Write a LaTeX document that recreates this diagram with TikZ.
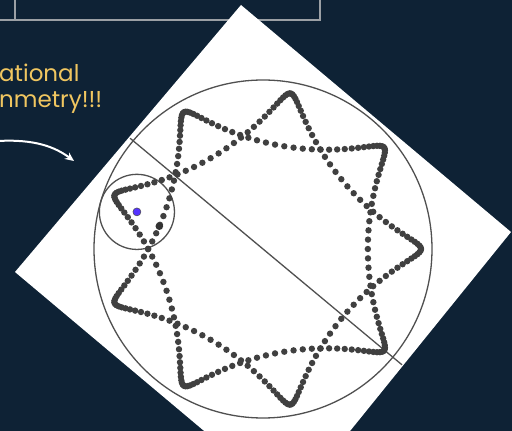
\documentclass[tikz,border=0pt]{standalone}
\usepackage{fontspec}
\setmainfont{Poppins}
\usetikzlibrary{arrows.meta}
\definecolor{nightblue}{RGB}{14,34,53}
\definecolor{framegray}{RGB}{155,160,165}
\definecolor{quotegold}{RGB}{240,198,96}
\definecolor{traceink}{RGB}{64,64,64}
\definecolor{rimink}{RGB}{80,80,80}
\definecolor{centerblue}{RGB}{85,51,255}

\begin{document}
\begin{tikzpicture}[
  x=1pt,y=1pt,
  frame/.style={draw=framegray,line width=2pt},
  remark/.style={font=\fontsize{23}{27}\selectfont,text=quotegold,inner sep=0pt,anchor=base west},
  hint/.style={-{Stealth[length=9pt,width=8pt]},draw=white,line width=2pt},
  rim/.style={draw=rimink,line width=1.3pt},
  tracedot/.style={fill=traceink}
]
\fill[nightblue] (0,0) rectangle (512,431);
\clip (0,0) rectangle (512,431);
% boxes at the top
\draw[frame] (-20,411) rectangle (15,440);
\draw[frame] (15,411) rectangle (320,440);
% remark and arrow
\node[remark] (line1) at (-1,349) {ational};
\node[remark] (line2) at (-1,323) {nmetry!!!};
\coordinate (arrowstart) at (-2,290);
\coordinate (arrowend) at (74,270);
\draw[hint] (arrowstart) .. controls (35,292) and (55,284) .. (arrowend);
% tilted sheet
\fill[white] (241,426) -- (511,199) -- (291,-73) -- (15,159) -- cycle;
\coordinate (hub) at (263,182);
\draw[rim] (hub) circle[radius=169];
\path (hub) ++(140.2:173) coordinate (diamA);
\path (hub) ++(-39.8:181) coordinate (diamB);
\draw[rim] (diamA) -- (diamB);
% rolling circle
\path (hub) ++(163.6:131.44) coordinate (roller);
\draw[rim] (roller) circle[radius=37.56];
% traced curve
\foreach \a in {0,2.4,...,717.6}
  \fill[tracedot] ({263+131.44*cos(\a)+26.6*cos(3.5*\a)},{182+131.44*sin(\a)-26.6*sin(3.5*\a)}) circle[radius=3.2];
\path (roller) ++(-32.6:26.6) coordinate (pen);
\fill[black!80] (pen) circle[radius=3.8];
\filldraw[fill=centerblue,draw=black!70,line width=0.5pt] (roller) circle[radius=4];
\end{tikzpicture}
\end{document}
